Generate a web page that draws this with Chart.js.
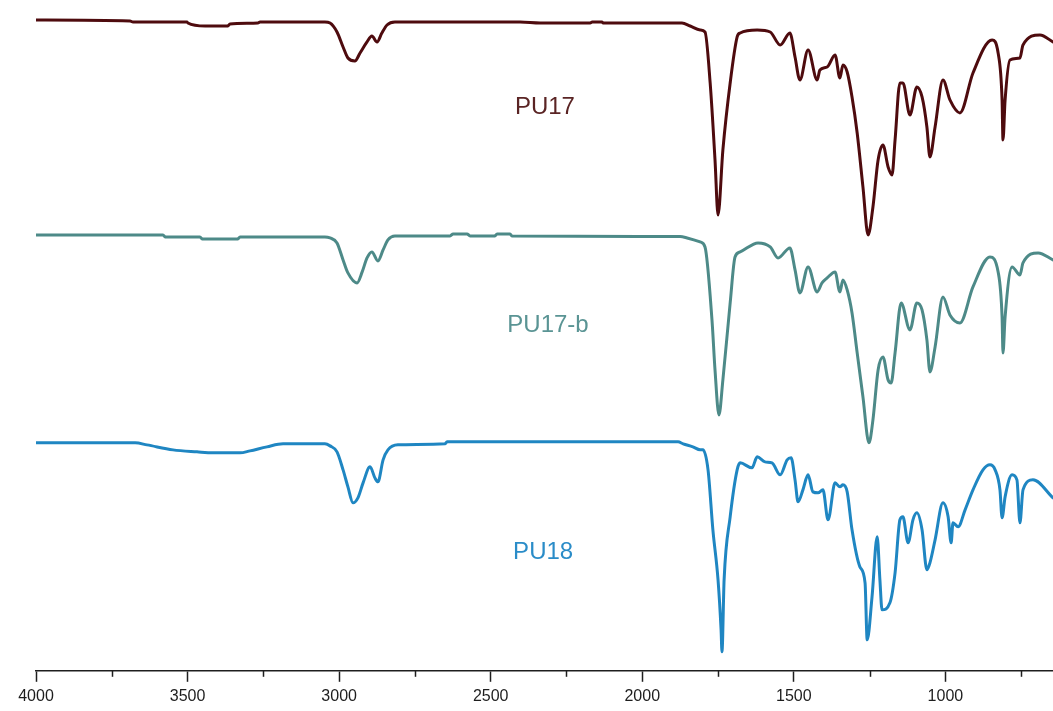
<!DOCTYPE html>
<html>
<head>
<meta charset="utf-8">
<title>FTIR spectra PU17 / PU17-b / PU18</title>
<script src="https://cdn.jsdelivr.net/npm/chart.js@4.4.1/dist/chart.umd.min.js"></script>
<style>
  html, body { margin: 0; padding: 0; background: #ffffff; }
  #wrap { width: 1053px; height: 711px; }
</style>
</head>
<body>
<div id="wrap"><canvas id="ftir" width="1053" height="711"></canvas></div>
<script>
// Wavenumbers (cm-1) and stacked transmittance (arbitrary units) for each sample
const pu17Wave = [4000,3690,3680,3502,3499,3442,3367,3360,3268,3261,3047,3030,3007,2987,2971,2948,2931,2908,2892,2875,2859,2842,2816,2403,2337,2172,2165,2133,2129,1869,1842,1809,1793,1776,1760,1750,1734,1710,1687,1677,1621,1578,1545,1513,1496,1480,1453,1423,1414,1390,1364,1348,1338,1324,1308,1291,1272,1255,1239,1222,1206,1189,1176,1166,1150,1140,1117,1094,1077,1061,1051,1034,1008,985,952,909,846,826,813,810,803,787,754,744,688,645];
const pu17T = [65.1,65.0,64.9,64.9,64.8,64.5,64.5,64.7,64.8,64.9,64.9,64.8,63.9,62.4,61.3,61.0,61.8,62.9,63.5,62.9,63.8,64.6,64.9,64.9,64.8,64.8,64.9,64.9,64.8,64.8,64.5,64.1,63.9,58.8,51.1,45.6,52.1,58.8,63.4,63.8,64.1,63.9,62.6,63.8,61.4,59.1,62.1,59.1,60.1,60.4,61.6,59.3,60.6,59.9,57.4,53.8,48.4,43.6,46.4,51.1,52.6,50.4,49.6,53.1,58.8,58.8,55.6,58.4,57.4,54.4,51.4,54.4,59.1,57.1,55.8,59.8,63.1,61.8,57.1,53.1,57.1,61.1,61.3,62.6,63.6,62.9];

const pu17bWave = [4000,3581,3574,3459,3452,3334,3327,3047,3030,3007,2987,2971,2941,2924,2908,2892,2872,2855,2839,2816,2634,2624,2578,2568,2486,2479,2436,2430,1875,1852,1809,1793,1770,1760,1747,1734,1710,1694,1677,1618,1578,1552,1513,1496,1480,1453,1423,1407,1390,1364,1348,1338,1324,1308,1291,1272,1252,1239,1222,1206,1189,1179,1166,1146,1117,1094,1077,1061,1051,1034,1008,985,952,909,853,826,813,810,803,780,754,744,694,645];
const pu17bT = [43.6,43.6,43.4,43.4,43.2,43.2,43.4,43.4,43.3,42.8,41.1,39.8,38.8,39.9,41.3,41.9,41.0,42.1,43.1,43.5,43.5,43.7,43.7,43.5,43.5,43.7,43.7,43.5,43.45,43.3,42.9,42.4,35.1,30.1,25.6,29.1,36.8,41.4,41.9,42.8,42.4,41.3,42.3,40.1,37.8,40.4,37.9,38.8,39.3,39.9,37.9,39.1,38.1,35.8,31.8,27.4,22.8,25.1,30.1,31.4,29.1,28.8,31.8,36.8,34.1,36.8,36.1,33.1,29.9,32.4,37.4,35.6,34.8,38.4,41.4,39.9,35.4,31.8,35.4,40.4,39.6,40.8,41.8,41.1];

const pu18Wave = [4000,3673,3634,3548,3469,3416,3327,3294,3238,3185,3047,3030,3007,2987,2971,2954,2938,2921,2898,2882,2872,2855,2839,2806,2651,2644,1882,1865,1833,1809,1800,1783,1767,1750,1740,1737,1730,1710,1687,1677,1638,1621,1595,1572,1545,1522,1509,1496,1486,1470,1453,1437,1420,1404,1387,1364,1348,1338,1324,1308,1282,1265,1258,1242,1225,1216,1209,1183,1166,1150,1140,1123,1107,1094,1077,1061,1051,1034,1008,991,981,975,958,935,909,876,853,836,820,813,803,780,764,754,744,711,645];
const pu18T = [22.8,22.8,22.6,22.1,21.9,21.8,21.8,22.0,22.4,22.7,22.7,22.5,21.9,20.1,18.4,16.8,17.3,18.8,20.4,19.3,18.9,21.1,22.1,22.6,22.7,22.9,22.9,22.7,22.4,22.1,22.1,20.1,14.1,9.1,4.1,1.9,9.1,15.4,20.1,20.8,20.3,21.4,20.9,20.8,19.6,21.1,21.3,19.1,16.9,18.1,19.6,17.9,17.8,18.1,15.1,18.8,18.4,18.6,17.9,14.1,10.4,8.8,3.1,7.4,13.4,9.1,6.1,6.8,9.8,15.1,15.4,12.8,15.1,15.8,14.1,10.1,10.8,13.1,16.8,15.4,12.8,14.8,14.4,16.1,18.1,20.1,20.6,20.1,18.1,15.3,17.4,19.6,19.1,14.8,18.1,19.1,17.3];

// Sample names, colours and where each name sits (wavenumber, transmittance)
const sampleNames = ['PU17', 'PU17-b', 'PU18'];
const lineColors = ['#4e0b0e', '#4d8a88', '#1f86c2'];
const textColors = ['#5a2424', '#5a9494', '#2a8cc8'];
const nameWave = [2321, 2311, 2327];
const nameT = [56.4, 34.6, 11.8];

// Axis ticks
const majorTicks = [4000, 3500, 3000, 2500, 2000, 1500, 1000];
const minorTicks = [3750, 3250, 2750, 2250, 1750, 1250, 750];
const waveMin = 645, waveMax = 4000;

const toPoints = (w, t) => w.map((x, i) => ({ x: x, y: t[i] }));
const series = [toPoints(pu17Wave, pu17T), toPoints(pu17bWave, pu17bT), toPoints(pu18Wave, pu18T)];

const axisColor = '#1e1e1e';

// Short ticks between the labelled ones
const minorTickPlugin = {
  id: 'minorTicks',
  afterDraw(chart) {
    const xs = chart.scales.x;
    const ctx = chart.ctx;
    ctx.save();
    ctx.strokeStyle = axisColor;
    ctx.lineWidth = 1.5;
    minorTicks.forEach(v => {
      const px = Math.round(xs.getPixelForValue(v)) + 0.5;
      ctx.beginPath();
      ctx.moveTo(px, xs.top);
      ctx.lineTo(px, xs.top + 6);
      ctx.stroke();
    });
    ctx.restore();
  }
};

// Sample names placed inside the plot
const sampleNamePlugin = {
  id: 'sampleNames',
  afterDatasetsDraw(chart) {
    const xs = chart.scales.x, ys = chart.scales.y;
    const ctx = chart.ctx;
    ctx.save();
    ctx.font = '24px "Liberation Sans", Arial, sans-serif';
    ctx.textAlign = 'center';
    ctx.textBaseline = 'middle';
    sampleNames.forEach((name, i) => {
      ctx.fillStyle = textColors[i];
      ctx.fillText(name, xs.getPixelForValue(nameWave[i]), ys.getPixelForValue(nameT[i]));
    });
    ctx.restore();
  }
};

new Chart(document.getElementById('ftir'), {
  type: 'line',
  data: {
    datasets: series.map((pts, i) => ({
      label: sampleNames[i],
      data: pts,
      borderColor: lineColors[i],
      borderWidth: 3,
      pointRadius: 0,
      cubicInterpolationMode: 'monotone',
      fill: false
    }))
  },
  options: {
    responsive: false,
    animation: false,
    layout: { padding: { left: 36, right: 0, top: 0, bottom: 0 } },
    plugins: { legend: { display: false }, tooltip: { enabled: false } },
    elements: { line: { borderJoinStyle: 'round', borderCapStyle: 'round' } },
    scales: {
      x: {
        type: 'linear',
        reverse: true,
        min: waveMin,
        max: waveMax,
        afterBuildTicks: (scale) => { scale.ticks = majorTicks.map(v => ({ value: v })); },
        ticks: {
          autoSkip: false,
          maxRotation: 0,
          padding: 5,
          color: axisColor,
          font: { family: '"Liberation Sans", Arial, sans-serif', size: 16 },
          callback: (v) => String(v)
        },
        grid: {
          drawOnChartArea: false,
          drawTicks: true,
          tickLength: 11,
          tickWidth: 1.5,
          tickColor: axisColor
        },
        border: { display: true, color: axisColor, width: 1.5 }
      },
      y: { display: false, min: 0, max: 67.1 }
    }
  },
  plugins: [minorTickPlugin, sampleNamePlugin]
});
</script>
</body>
</html>
